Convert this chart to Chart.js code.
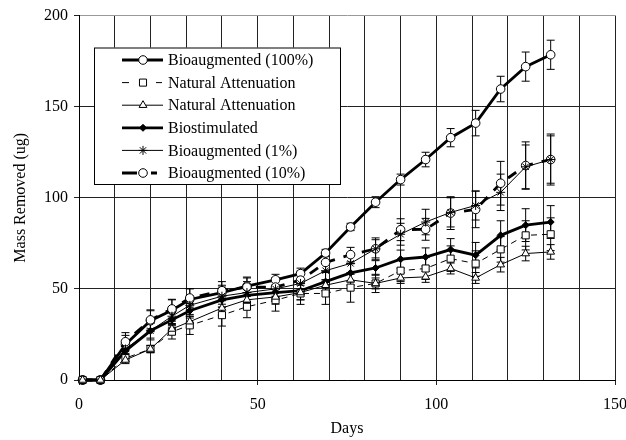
<!DOCTYPE html>
<html>
<head>
<meta charset="utf-8">
<script src="https://cdn.jsdelivr.net/npm/chart.js@4.4.1/dist/chart.umd.min.js"></script>
<style>
  html, body { margin: 0; padding: 0; background: #fff; }
  #wrap { width: 626px; height: 440px; }
</style>
</head>
<body>
<div id="wrap"><canvas id="massChart" width="626" height="440"></canvas></div>
<script>
// sampling days
const days = [1, 6, 13, 20, 26, 31, 40, 47, 55, 62, 69, 76, 83, 90, 97, 104, 111, 118, 125, 132];

// mass removed (ug) per treatment
const bio100 = [0, 0, 19.5, 32.5, 38.3, 44.2, 48, 51.5, 55, 58.4, 69.7, 84, 97.6, 110, 121, 133, 141, 159.7, 172, 178.5];
const natAttSq = [0, 0, 12, 17, 26.5, 30, 35.6, 40.2, 43.8, 47.5, 47.5, 50.7, 53, 60, 61.2, 66.6, 63.9, 71.7, 79.4, 80];
const natAttTri = [0, 0, 11, 17, 28, 32, 39.5, 44, 45.6, 48, 52, 55, 53, 56, 56.6, 61.2, 56, 63.3, 69.4, 70.3];
const biostim = [0, 0, 16, 27, 33, 38, 44, 46.5, 48, 49, 54, 58.8, 61.5, 66.3, 67.5, 71.6, 68.5, 79.4, 85, 86.7];
const bio1 = [0, 0, 17, 27, 35, 41, 46, 48, 50, 53, 60, 64, 72, 80, 86.7, 92, 95.8, 103, 117, 121];
const bio10 = [0, 0, 21, 33, 39, 45, 49, 51, 51, 54.8, 64.5, 68.8, 72, 82.5, 82.7, 91.6, 93.6, 108, 117.7, 121];

// error bar half widths
const err100 = [0, 0, 5, 6, 6, 6, 3, 5, 3, 3, 2, 2, 3, 3, 4, 5, 7, 7, 8, 8];
const errSq = [0, 0, 2, 2, 4, 5, 6, 6, 6, 6, 6, 8, 5, 6, 6, 7, 7, 7, 8, 9];
const errTri = [0, 0, 2, 2, 3, 3, 4, 4, 4, 4, 3, 3, 3, 3, 3, 3, 3, 4, 4, 4];
const errStim = [0, 0, 3, 4, 4, 4, 4, 4, 4, 5, 5, 5, 4, 5, 5, 6, 7, 8, 9, 9];
const err1 = [0, 0, 4, 5, 5, 5, 6, 6, 6, 6, 5, 5, 5, 6, 7, 8, 8, 10, 12, 13];
const err10 = [0, 0, 5, 5, 5, 5, 5, 5, 5, 5, 5, 4, 6, 6, 6, 9, 10, 12, 13, 14];

const xTicks = [0, 50, 100, 150];
const yTicks = [0, 50, 100, 150, 200];

const FONT = '"Liberation Serif", "Times New Roman", serif';

function pts(vals) {
    return vals.map((v, i) => ({ x: days[i], y: v }));
}

function makeSet(label, vals, err, style) {
    return Object.assign({
        label: label,
        data: pts(vals),
        err: err,
        borderColor: '#000',
        pointBorderColor: '#000',
        pointBackgroundColor: '#fff',
        pointBorderWidth: 1,
        showLine: true,
        clip: false,
        tension: 0
    }, style);
}

const datasets = [
    makeSet('Natural Attenuation', natAttTri, errTri, { borderWidth: 1, pointStyle: 'triangle', pointRadius: 4.5 }),
    makeSet('Natural Attenuation', natAttSq, errSq, { borderWidth: 1, borderDash: [6, 5], pointStyle: 'rect', pointRadius: 5 }),
    makeSet('Bioaugmented (1%)', bio1, err1, { borderWidth: 1, pointStyle: 'star', pointRadius: 4.5 }),
    makeSet('Biostimulated', biostim, errStim, { borderWidth: 2.8, pointStyle: 'rectRot', pointRadius: 3.5, pointBackgroundColor: '#000' }),
    makeSet('Bioaugmented (10%)', bio10, err10, { borderWidth: 2.8, borderDash: [10, 9], pointStyle: 'circle', pointRadius: 4.3 }),
    makeSet('Bioaugmented (100%)', bio100, err100, { borderWidth: 2.8, pointStyle: 'circle', pointRadius: 4.3 })
];

// legend order as in the figure
const legendOrder = [5, 1, 0, 3, 2, 4];

const errorBars = {
    id: 'errorBars',
    beforeDatasetsDraw(chart) {
        const ctx = chart.ctx;
        const yScale = chart.scales.y;
        ctx.save();
        ctx.strokeStyle = '#000';
        ctx.lineWidth = 1;
        chart.data.datasets.forEach((ds, di) => {
            const meta = chart.getDatasetMeta(di);
            meta.data.forEach((p, i) => {
                const e = ds.err[i];
                if (!e) return;
                const v = ds.data[i].y;
                const top = yScale.getPixelForValue(v + e);
                const bot = yScale.getPixelForValue(v - e);
                ctx.beginPath();
                ctx.moveTo(p.x, top); ctx.lineTo(p.x, bot);
                ctx.moveTo(p.x - 4, top); ctx.lineTo(p.x + 4, top);
                ctx.moveTo(p.x - 4, bot); ctx.lineTo(p.x + 4, bot);
                ctx.stroke();
            });
        });
        ctx.restore();
    }
};

const boxLegend = {
    id: 'boxLegend',
    afterDraw(chart) {
        const ctx = chart.ctx;
        const left = 94, top = 47.5, right = 340, bottom = 184;
        ctx.save();
        ctx.fillStyle = '#fff';
        ctx.fillRect(left, top, right - left, bottom - top);
        ctx.strokeStyle = '#000';
        ctx.lineWidth = 1;
        ctx.strokeRect(left + 0.5, top + 0.5, right - left, bottom - top);
        ctx.font = '16px ' + FONT;
        ctx.textBaseline = 'middle';
        legendOrder.forEach((di, row) => {
            const ds = chart.data.datasets[di];
            const y = 60 + row * 22.6;
            ctx.strokeStyle = '#000';
            ctx.lineWidth = ds.borderWidth;
            ctx.setLineDash([]);
            ctx.beginPath();
            if (ds.borderDash) {
                if (ds.borderWidth > 2) {
                    ctx.moveTo(122, y); ctx.lineTo(137, y);
                    ctx.moveTo(151, y); ctx.lineTo(157, y);
                } else {
                    ctx.moveTo(122, y); ctx.lineTo(129, y);
                    ctx.moveTo(156, y); ctx.lineTo(162, y);
                }
            } else {
                ctx.moveTo(122, y); ctx.lineTo(163, y);
            }
            ctx.stroke();
            ctx.fillStyle = ds.pointBackgroundColor;
            ctx.lineWidth = 1;
            Chart.helpers.drawPoint(ctx, {
                pointStyle: ds.pointStyle,
                radius: ds.pointRadius,
                rotation: 0,
                borderWidth: 1
            }, 143, y);
            ctx.fillStyle = '#000';
            ctx.fillText(ds.label, 168, y + 1);
        });
        ctx.restore();
    }
};

const ctx = document.getElementById('massChart').getContext('2d');
const massChart = new Chart(ctx, {
    type: 'scatter',
    data: { datasets: datasets },
    options: {
        responsive: false,
        animation: false,
        events: [],
        layout: { padding: { top: 14, right: 11, left: 0, bottom: 0 } },
        plugins: {
            legend: { display: false },
            tooltip: { enabled: false }
        },
        scales: {
            x: {
                type: 'linear',
                min: 0,
                max: 150,
                afterFit(scale) {
                    scale.height = 60;
                    scale.paddingLeft = 0;
                    scale.paddingRight = 0;
                },
                ticks: {
                    stepSize: 10,
                    autoSkip: false,
                    maxRotation: 0,
                    padding: 10,
                    color: '#000',
                    font: { family: FONT, size: 16 },
                    callback: v => xTicks.includes(v) ? v : ''
                },
                grid: {
                    color: '#222',
                    lineWidth: 1,
                    tickLength: 5,
                    tickColor: c => (c.tick && xTicks.includes(c.tick.value)) ? '#222' : 'rgba(0,0,0,0)'
                },
                border: { color: '#000', width: 1 },
                title: {
                    display: true,
                    text: 'Days',
                    color: '#000',
                    padding: { top: 2, bottom: 2 },
                    font: { family: FONT, size: 16 }
                }
            },
            y: {
                type: 'linear',
                min: 0,
                max: 200,
                afterFit(scale) { scale.width = 79; },
                ticks: {
                    stepSize: 50,
                    padding: 6,
                    color: '#000',
                    font: { family: FONT, size: 16 },
                    callback: v => yTicks.includes(v) ? v : ''
                },
                grid: {
                    color: c => (c.tick && c.tick.value === 200) ? '#999' : '#222',
                    lineWidth: 1,
                    tickLength: 5,
                    tickColor: '#222'
                },
                border: { color: '#000', width: 1 },
                title: {
                    display: true,
                    text: 'Mass Removed (ug)',
                    color: '#000',
                    padding: { top: 11, bottom: 11 },
                    font: { family: FONT, size: 16 }
                }
            }
        }
    },
    plugins: [errorBars, boxLegend]
});
</script>
</body>
</html>
